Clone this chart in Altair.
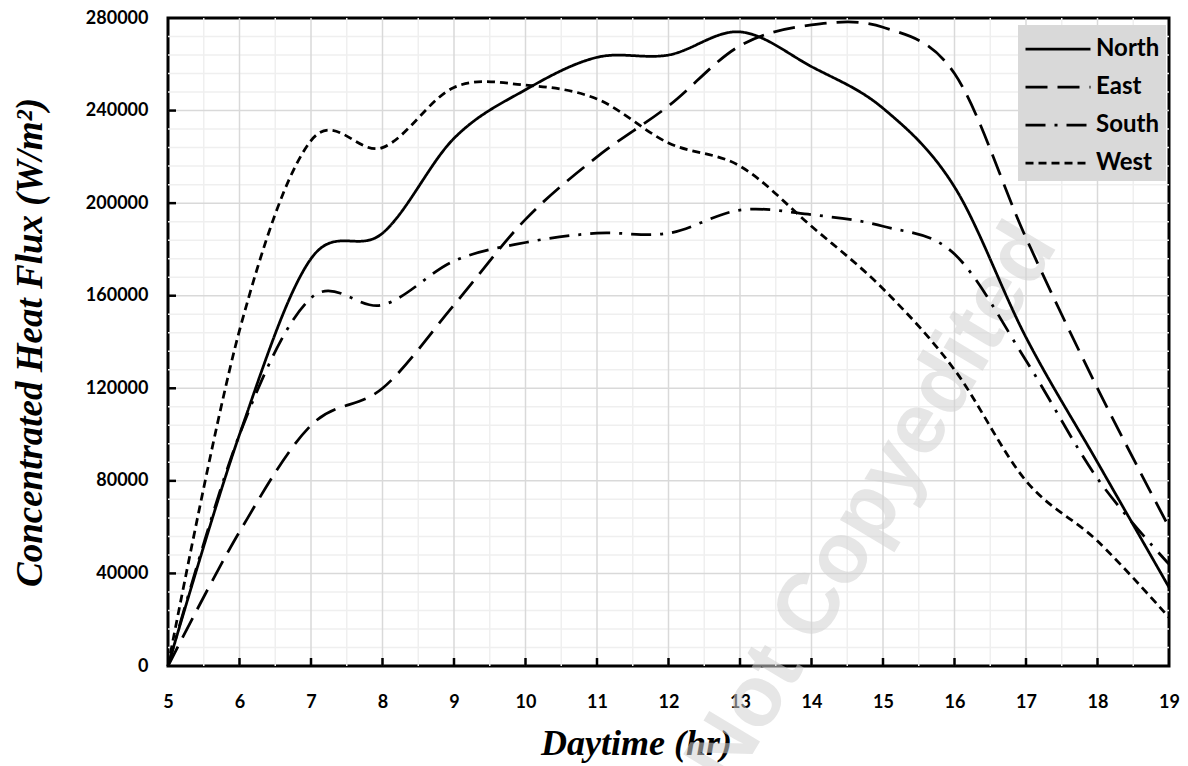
import altair as alt
import pandas as pd

# ---------------- data ----------------
hours = list(range(5, 20))
north = [0, 100000, 176000, 187000, 228000, 249000, 263000, 264000, 274000, 259000, 241000, 207000, 142000, 88000, 34000]
east = [0, 58000, 104000, 120000, 156000, 193000, 220000, 242000, 268000, 277000, 276000, 256000, 185000, 120000, 60000]
south = [0, 100000, 159000, 156000, 175000, 183000, 187000, 187000, 197000, 195000, 190000, 178000, 132000, 81000, 44000]
west = [0, 145000, 227000, 224000, 250000, 251000, 245000, 226000, 216000, 190000, 163000, 128000, 80000, 54000, 21000]

series_names = ["North", "East", "South", "West"]
series_values = [north, east, south, west]
dash_patterns = [[1, 0], [22, 10], [20, 9, 3, 9], [8, 5]]

x_tick_values = list(range(5, 20))
y_tick_values = list(range(0, 280001, 40000))
x_major = list(range(6, 19))
x_minor = [h + 0.5 for h in range(5, 19)]
y_major = list(range(40000, 280000, 40000))
y_minor = [v for v in range(8000, 280000, 8000) if v % 40000]

watermark_text = ["Not Copyedited"]
watermark_x = [14.85]
watermark_y = [70000]

# ---------------- tables ----------------
rows = []
for name, vals in zip(series_names, series_values):
    for h, v in zip(hours, vals):
        rows.append({"hour": h, "flux": v, "series": name})
df = pd.DataFrame(rows)

W, H = 1001, 648
xs = alt.Scale(domain=[5, 19], nice=False, zero=False)
ys = alt.Scale(domain=[0, 280000], nice=False)

x_axis = alt.Axis(
    values=x_tick_values, format="d", title="Daytime (hr)", grid=False, domain=False, ticks=False, tickSize=0,
    labelFont="Lato", labelFontSize=18, labelFontWeight="bold", labelColor="black", labelPadding=27,
    labelFlush=False,
    titleFont="Liberation Serif", titleFontSize=36, titleFontStyle="italic", titleFontWeight="bold",
    titleColor="black", titleX=468, titleY=77, titleBaseline="middle", titleAlign="center")
y_axis = alt.Axis(
    values=y_tick_values, format="d", title="Concentrated Heat Flux (W/m²)", grid=False, domain=False,
    ticks=False, tickSize=0,
    labelFont="Lato", labelFontSize=18, labelFontWeight="bold", labelColor="black", labelPadding=20,
    labelFlush=False,
    titleFont="Liberation Serif", titleFontSize=37, titleFontStyle="italic", titleFontWeight="bold",
    titleColor="black", titleX=-138, titleY=324, titleAngle=270, titleBaseline="middle",
    titleAlign="center")


def X(field):
    return alt.X(field, scale=xs, axis=x_axis, title="Daytime (hr)")


def Y(field):
    return alt.Y(field, scale=ys, axis=y_axis, title="Concentrated Heat Flux (W/m²)")


minor_x = alt.Chart(pd.DataFrame({"hour": x_minor})).mark_rule(color="#efefef", strokeWidth=1.5).encode(
    x=X("hour:Q"))
minor_y = alt.Chart(pd.DataFrame({"flux": y_minor})).mark_rule(color="#efefef", strokeWidth=1.5).encode(
    y=Y("flux:Q"))
major_x = alt.Chart(pd.DataFrame({"hour": x_major})).mark_rule(color="#d9d9d9", strokeWidth=1.5).encode(
    x=X("hour:Q"))
major_y = alt.Chart(pd.DataFrame({"flux": y_major})).mark_rule(color="#d9d9d9", strokeWidth=1.5).encode(
    y=Y("flux:Q"))

wm = alt.Chart(pd.DataFrame({"hour": watermark_x, "flux": watermark_y, "t": watermark_text})).mark_text(
    angle=301, fontSize=86, font="Liberation Sans", fontWeight="bold", color="#d2d2d2", opacity=0.55,
    align="center", baseline="middle").encode(
    x=X("hour:Q"), y=Y("flux:Q"), text="t:N")

lines = alt.Chart(df).mark_line(interpolate="cardinal", tension=0, strokeWidth=2.75, color="black").encode(
    x=X("hour:Q"),
    y=Y("flux:Q"),
    strokeDash=alt.StrokeDash("series:N", sort=series_names,
                              scale=alt.Scale(domain=series_names, range=dash_patterns),
                              legend=alt.Legend(
                                  title=None, orient="none", legendX=850, legendY=7, fillColor="#d9d9d9",
                                  padding=6, symbolType="M-2,0H2", symbolSize=1056, symbolStrokeWidth=2.75,
                                  symbolStrokeColor="black", symbolOffset=16, labelOffset=20,
                                  labelFont="Lato", labelFontSize=24, labelFontWeight="bold",
                                  labelColor="black", rowPadding=8)),
)

xt = alt.Chart(pd.DataFrame({"hour": x_major})).mark_rule(color="black", strokeWidth=2.5).encode(
    x=X("hour:Q"), y=alt.value(H - 8), y2=alt.value(H))
yt = alt.Chart(pd.DataFrame({"flux": y_major})).mark_rule(color="black", strokeWidth=2.5).encode(
    y=Y("flux:Q"), x=alt.value(0), x2=alt.value(8))

chart = alt.layer(minor_x, minor_y, major_x, major_y, wm, lines, xt, yt).properties(
    width=W, height=H,
    background="white",
    padding={"left": 168, "top": 18, "right": 19, "bottom": 100},
    autosize=alt.AutoSizeParams(type="none"),
).configure_view(stroke="black", strokeWidth=3)

chart.save("out.html", embed_options={"renderer": "svg", "actions": False})
